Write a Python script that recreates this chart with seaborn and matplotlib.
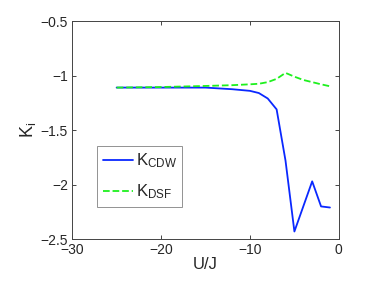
import numpy as np
import pandas as pd
import matplotlib
matplotlib.use("Agg")
import matplotlib.pyplot as plt
import seaborn as sns

u_j = [-25, -20, -15, -12, -10, -9, -8, -7, -6, -5, -4, -3, -2, -1]
k_cdw = [-1.11, -1.11, -1.11, -1.125, -1.14, -1.16, -1.21, -1.31, -1.78, -2.43, -2.20, -1.97, -2.20, -2.21]
k_dsf = [-1.11, -1.105, -1.095, -1.088, -1.08, -1.075, -1.06, -1.03, -0.975, -1.01, -1.04, -1.06, -1.08, -1.098]

xticks = [-30, -20, -10, 0]
yticks = [-2.5, -2.0, -1.5, -1.0, -0.5]
ytick_labels = ['\u22122.5', '\u22122', '\u22121.5', '\u22121', '\u22120.5']
xtick_labels = ['\u221230', '\u221220', '\u221210', '0']

df = pd.DataFrame({'U/J': u_j, 'CDW': k_cdw, 'DSF': k_dsf})

sns.set_style("white")
plt.rcParams['font.family'] = ['Liberation Sans', 'DejaVu Sans']
plt.rcParams['mathtext.fontset'] = 'custom'
plt.rcParams['mathtext.rm'] = 'Liberation Sans'
plt.rcParams['mathtext.it'] = 'Liberation Sans'

fig = plt.figure(figsize=(3.74, 2.81), dpi=100)
ax = fig.add_axes([0.193, 0.149, 0.713, 0.776])

sns.lineplot(data=df, x='U/J', y='CDW', ax=ax, color='#0a28ff', lw=1.3, label=r'K$_{\mathrm{CDW}}$')
sns.lineplot(data=df, x='U/J', y='DSF', ax=ax, color='#1ef01e', lw=1.3, ls='--', label=r'K$_{\mathrm{DSF}}$')

ax.set_xlim(-30, 0)
ax.set_ylim(-2.5, -0.5)
ax.set_xticks(xticks)
ax.set_xticklabels(xtick_labels, fontsize=10)
ax.set_yticks(yticks)
ax.set_yticklabels(ytick_labels, fontsize=10)
ax.tick_params(direction='in', length=3, width=0.6, top=True, right=True, bottom=True, left=True, pad=3)
ax.set_xlabel('U/J', fontsize=12, labelpad=0)
ax.set_ylabel(r'K$_\mathrm{i}$', fontsize=13, labelpad=2)
for s in ax.spines.values():
    s.set_color('#444444')
    s.set_linewidth(0.7)

leg = ax.legend(loc='lower left', bbox_to_anchor=(0.094, 0.147), fontsize=12, frameon=True,
                fancybox=False, handlelength=1.8, handletextpad=0.15, borderpad=0.35,
                labelspacing=0.75, borderaxespad=0)
leg.get_frame().set_edgecolor('#777777')
leg.get_frame().set_linewidth(0.7)

fig.savefig('out.png', dpi=100)
